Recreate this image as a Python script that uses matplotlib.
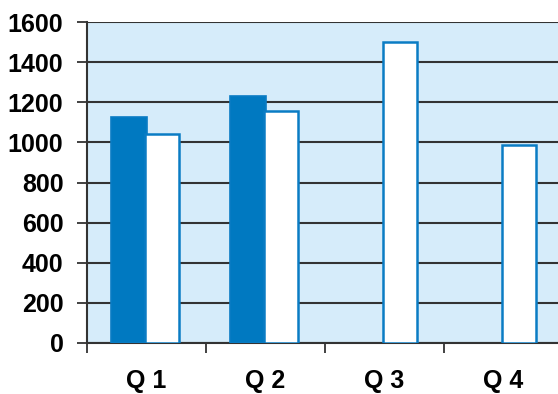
import matplotlib.pyplot as plt
import numpy as np

quarters = ['Q 1', 'Q 2', 'Q 3', 'Q 4']
filled_vals = [1125, 1230, np.nan, np.nan]
white_vals = [1040, 1155, 1500, 985]
yticks = [0, 200, 400, 600, 800, 1000, 1200, 1400, 1600]

plt.rcParams['font.family'] = ['Liberation Sans', 'DejaVu Sans']

fig = plt.figure(figsize=(5.58, 3.94), dpi=100)
ax = fig.add_axes([87 / 558, 51 / 394, 1 - 87 / 558, 321 / 394])
ax.set_facecolor('#d6ecfa')

x = np.arange(len(quarters))
w = 0.30
ax.bar(x - w / 2, filled_vals, width=w, color='#0079c1', edgecolor='#0a7cc4',
       linewidth=1.2, zorder=3)
ax.bar(x + w / 2 - 0.02, white_vals, width=w - 0.02, color='white', edgecolor='#0a7cc4',
       linewidth=1.8, zorder=3)

ax.set_ylim(0, 1600)
ax.set_xlim(-0.5, 3.5 - 5 / 119)
ax.set_yticks(yticks)
ax.set_yticklabels([str(v) for v in yticks], fontsize=18, fontweight='bold')
ax.yaxis.grid(True, color='#333333', linewidth=1.5, zorder=1)
ax.set_axisbelow(True)

ax.set_xticks([-0.5, 0.5, 1.5, 2.5])
ax.set_xticklabels([])
ax.set_xticks(x, minor=True)
ax.set_xticklabels(quarters, minor=True, fontsize=18, fontweight='bold')
ax.tick_params(axis='x', which='minor', length=0, pad=19)
ax.tick_params(axis='x', which='major', length=7, width=1.3, color='#333333', direction='out')
ax.tick_params(axis='y', length=7, width=1.3, color='#333333', pad=10)

for s in ['top', 'right']:
    ax.spines[s].set_visible(False)
for s in ['left', 'bottom']:
    ax.spines[s].set_color('#333333')
    ax.spines[s].set_linewidth(1.5)

fig.savefig('out.png', dpi=100)
